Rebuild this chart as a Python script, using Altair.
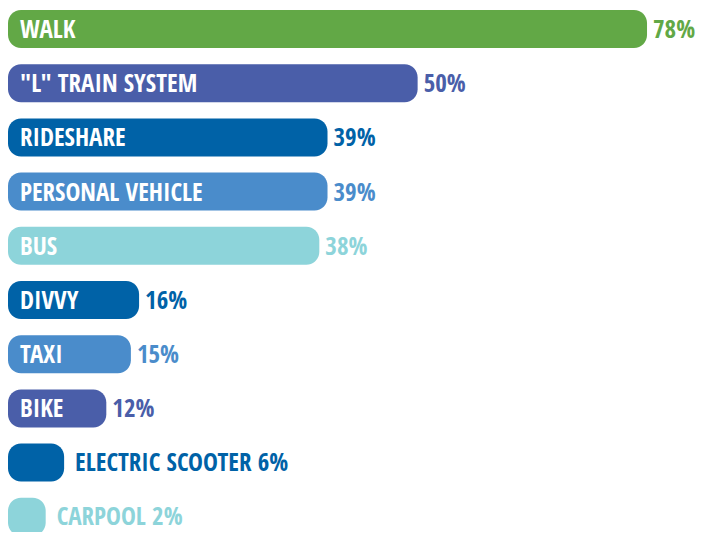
import altair as alt
import pandas as pd

categories = ['WALK', '"L" TRAIN SYSTEM', 'RIDESHARE', 'PERSONAL VEHICLE', 'BUS',
              'DIVVY', 'TAXI', 'BIKE', 'ELECTRIC SCOOTER', 'CARPOOL']
values = [78, 50, 39, 39, 38, 16, 15, 12, 6, 2]
colors = ['#62a846', '#4a5ea9', '#0062a7', '#4a8ccb', '#8dd4da',
          '#0062a7', '#4a8ccb', '#4a5ea9', '#0062a7', '#8dd4da']

df = pd.DataFrame({'category': categories, 'value': values, 'color': colors})
df['pct'] = [f"{v}%" for v in values]

FONT = "'Noto Sans ExtraCondensed', 'Noto Sans Condensed', 'Open Sans Condensed', 'Roboto Condensed', Roboto, sans-serif"
FS = 25

y_enc = alt.Y('category:N', sort=categories, axis=None,
              scale=alt.Scale(range=[0, 529.8], paddingInner=0.299, paddingOuter=0.0369))
x_scale = alt.Scale(domain=[0, 84.1], nice=False, zero=True)

base = alt.Chart(df).transform_calculate(
    extent='datum.value < 10 ? max(datum.value + 0.85, 4.6) : datum.value',
    outside_label='datum.category + " " + datum.pct'
)

bars = base.mark_bar(cornerRadius=13).encode(
    x=alt.X('zero:Q', scale=x_scale, axis=None),
    x2='extent:Q',
    y=y_enc,
    color=alt.Color('color:N', scale=None),
).transform_calculate(zero='0')

inside = base.transform_filter('datum.value >= 10').mark_text(
    align='left', baseline='middle', font=FONT, fontWeight='bold', fontSize=FS,
    color='white', dy=1
).encode(
    x=alt.value(12),
    y=y_enc,
    text='category:N',
)

pct = base.transform_filter('datum.value >= 10').mark_text(
    align='left', baseline='middle', font=FONT, fontWeight='bold', fontSize=FS, dx=6, dy=1
).encode(
    x=alt.X('value:Q', scale=x_scale, axis=None),
    y=y_enc,
    text='pct:N',
    color=alt.Color('color:N', scale=None),
)

outside = base.transform_filter('datum.value < 10').mark_text(
    align='left', baseline='middle', font=FONT, fontWeight='bold', fontSize=FS, dx=11
).encode(
    x=alt.X('extent:Q', scale=x_scale, axis=None),
    y=y_enc,
    text='outside_label:N',
    color=alt.Color('color:N', scale=None),
)

chart = alt.layer(bars, inside, pct, outside).properties(
    width=689, height=524, padding=0,
    autosize=alt.AutoSizeParams(type='none'),
).configure_view(stroke=None)

chart.save("out.html", embed_options={"renderer": "svg", "actions": False})
